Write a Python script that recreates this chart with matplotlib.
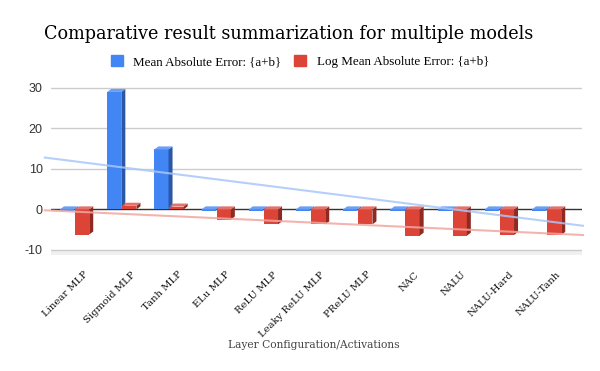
import numpy as np
import matplotlib
matplotlib.use("Agg")
import matplotlib.pyplot as plt
from matplotlib.patches import Polygon, Patch
from matplotlib.transforms import ScaledTranslation

# values
models = ["Linear MLP", "Sigmoid MLP", "Tanh MLP", "ELu MLP", "ReLU MLP",
          "Leaky ReLU MLP", "PReLU MLP", "NAC", "NALU", "NALU-Hard", "NALU-Tanh"]
mae = [-0.3, 29.0, 14.8, -0.3, -0.3, -0.3, -0.3, -0.3, -0.3, -0.3, -0.3]
log_mae = [-6.2, 0.9, 0.7, -2.5, -3.7, -3.7, -3.7, -6.5, -6.5, -6.3, -6.3]
yticks = [-10, 0, 10, 20, 30]

BLUE = ("#4285f4", "#2b57a5", "#6b9ff6")
RED = ("#db4437", "#8f2a22", "#e4726a")
SERIF = "DejaVu Serif"
DX, DY = 0.085, 0.75  # depth of the 3D faces, in data units


def bar3d(ax, xs, vals, width, colors, dx, dy):
    """Front face via ax.bar, plus a side and top face for the 3D look."""
    front, side, top = colors
    bars = ax.bar(xs, vals, width, color=front, zorder=3, linewidth=0)
    for b in bars:
        x0 = b.get_x()
        x1 = x0 + b.get_width()
        lo = min(b.get_y(), b.get_y() + b.get_height())
        hi = max(b.get_y(), b.get_y() + b.get_height())
        ax.add_patch(Polygon([(x1, lo), (x1 + dx, lo + dy), (x1 + dx, hi + dy), (x1, hi)],
                             closed=True, color=side, zorder=3, linewidth=0))
        ax.add_patch(Polygon([(x0, hi), (x0 + dx, hi + dy), (x1 + dx, hi + dy), (x1, hi)],
                             closed=True, color=top, zorder=3, linewidth=0))


fig = plt.figure(figsize=(6, 3.71), dpi=100)
ax = fig.add_axes([0.085, 0.31, 0.885, 0.464])

x = np.arange(len(models))
w = 0.3
xlim = (-0.5, 10.75)
bar3d(ax, x - 0.16, mae, w, BLUE, DX, DY)
bar3d(ax, x + 0.16, log_mae, w, RED, DX, DY)

# grid and zero line
for t in yticks:
    if t == 0:
        ax.axhline(0, color="#333333", lw=1, zorder=2)
    else:
        ax.axhline(t, color="#cccccc", lw=1, zorder=1)
ax.axhspan(-11.2, -10.1, color="#f0f0f0", zorder=0, lw=0)

# linear trendlines (sit on the back plane, so lifted by the depth)
xt = np.array([-0.63, 10.77])
for vals, c in [(mae, "#a8c7fa"), (log_mae, "#f2a7a1")]:
    k, b0 = np.polyfit(x, vals, 1)
    ax.plot(xt, k * xt + b0 + DY, color=c, lw=1.5, alpha=0.85, zorder=4, clip_on=False)

ax.set_xlim(*xlim)
ax.set_ylim(-11.5, 31)
ax.set_yticks(yticks)
ax.set_yticklabels([str(t) for t in yticks], fontsize=9, color="#333333",
                   fontfamily="Liberation Sans")
ax.set_xticks(x)
ax.set_xticklabels(models, rotation=45, ha="right", rotation_mode="anchor",
                   fontsize=7.2, fontfamily=SERIF, color="#111111")
ax.tick_params(axis="y", length=0, pad=6)
ax.tick_params(axis="x", length=0, pad=10)
shift = ScaledTranslation(0.09, 0, fig.dpi_scale_trans)
for lab in ax.get_xticklabels():
    lab.set_transform(lab.get_transform() + shift)
for s in ax.spines.values():
    s.set_visible(False)

fig.text(0.073, 0.908, "Comparative result summarization for multiple models",
         fontsize=12.7, fontfamily=SERIF, va="center", ha="left")
fig.text(0.523, 0.07, "Layer Configuration/Activations", fontsize=7.7,
         fontfamily=SERIF, ha="center", va="center", color="#444444")

handles = [Patch(color=BLUE[0], label="Mean Absolute Error: {a+b}"),
           Patch(color=RED[0], label="Log Mean Absolute Error: {a+b}")]
fig.legend(handles=handles, loc="center", bbox_to_anchor=(0.5, 0.834), ncol=2,
           frameon=False, prop={"family": "Liberation Serif", "size": 9.4},
           handlelength=0.9, handleheight=0.9, columnspacing=1.0, handletextpad=0.8)

fig.savefig("out.png", dpi=100, facecolor="white")
